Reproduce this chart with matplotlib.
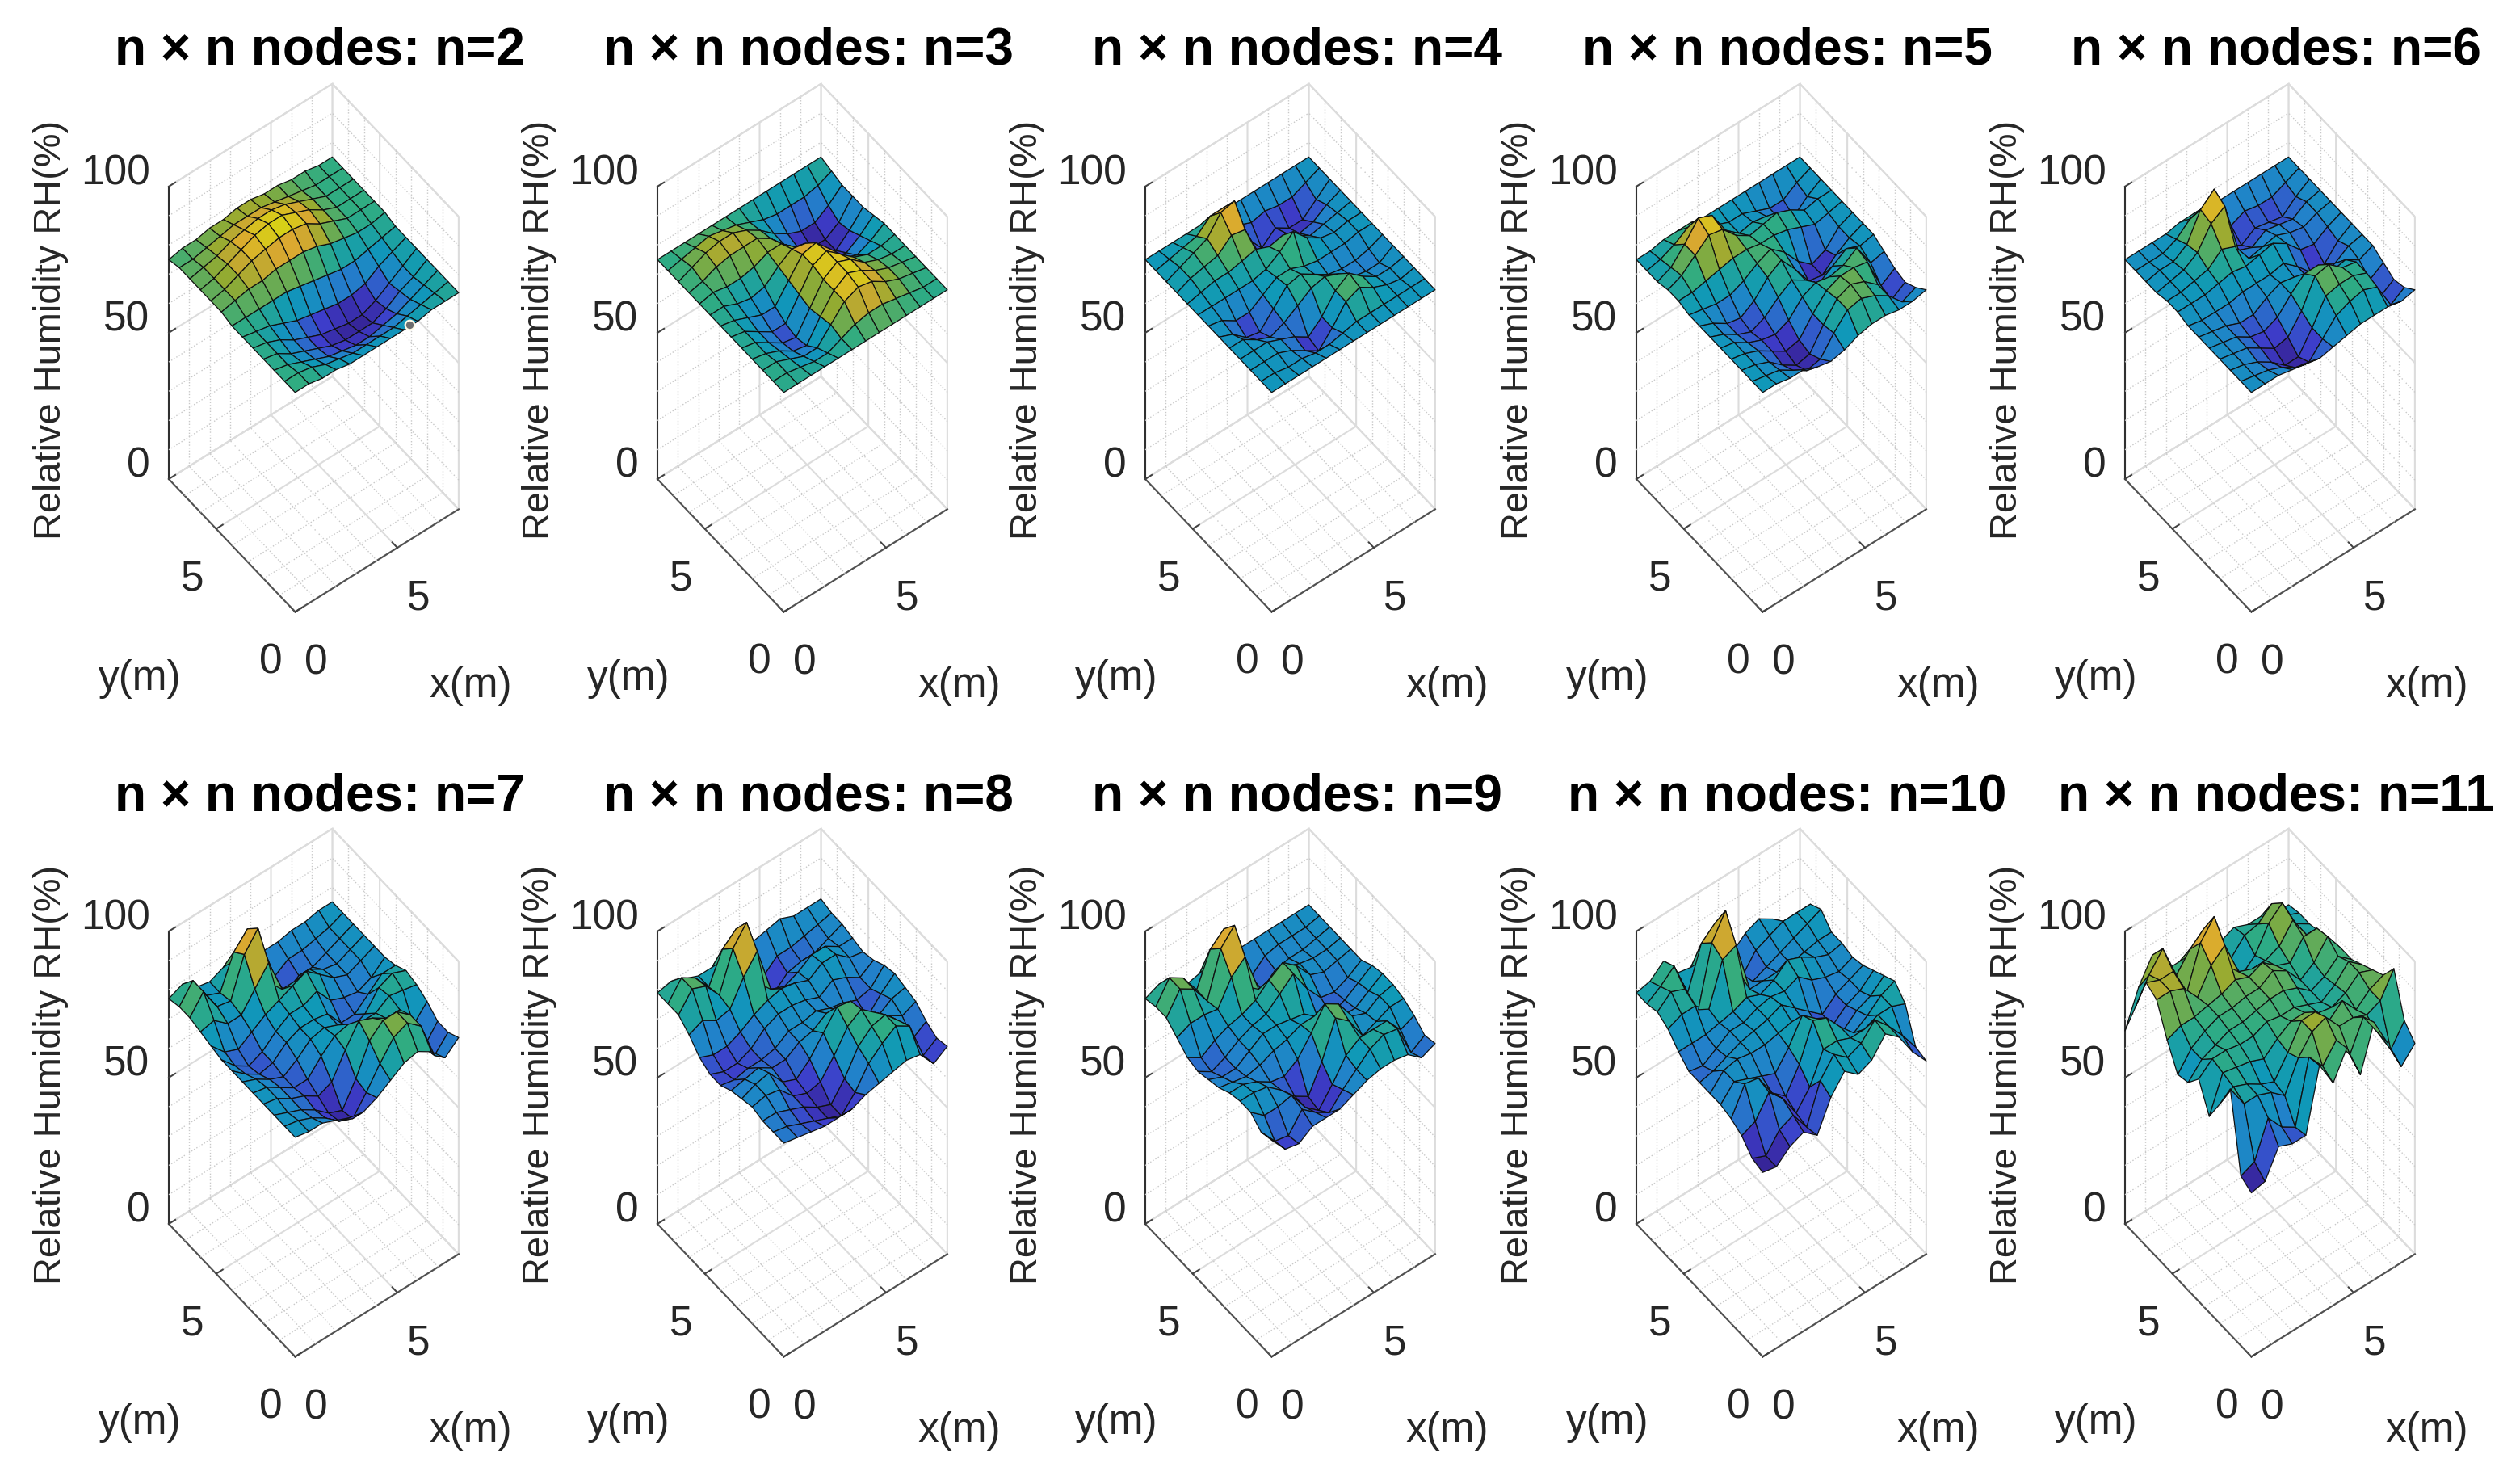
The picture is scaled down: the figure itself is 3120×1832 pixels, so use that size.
import numpy as np
import matplotlib
matplotlib.use("Agg")
import matplotlib.pyplot as plt
from matplotlib.colors import LinearSegmentedColormap, Normalize
from mpl_toolkits.mplot3d import proj3d

# ---- values (RH %, rows: y from 0 to max, columns: x from 0 to max)
rh_n2 = [
[75,75,74,74,73,73,73,73,73,73,74,74,74],
[75,75,74,72,71,70,70,70,70,71,72,73,74],
[75,74,72,70,68,67,66,66,67,68,70,72,74],
[75,74,71,69,67,65,64,64,64,66,69,71,74],
[75,74,72,69,67,65,64,63,63,65,68,71,74],
[75,74,73,71,69,68,67,66,66,67,70,72,74],
[75,75,75,75,75,74,73,72,71,71,72,73,74],
[76,77,78,78,79,79,79,78,76,75,74,74,75],
[76,77,79,81,82,83,83,82,79,77,75,75,75],
[76,77,79,81,83,84,84,82,80,77,75,75,75],
[76,77,78,80,81,82,82,81,79,77,75,75,75],
[76,76,77,78,79,79,79,78,77,76,75,75,75],
[75,76,76,77,77,78,78,77,77,76,76,75,75]]
rh_n3 = [
[75,75,75,75,75,75,75,75,75,75,75,75,75],
[75,75,74,73,73,75,77,78,78,77,76,75,75],
[75,75,73,71,71,76,81,83,82,79,77,76,75],
[75,74,72,69,68,75,81,84,82,79,77,76,75],
[75,74,71,68,67,74,81,84,82,78,76,75,75],
[75,74,71,68,68,75,82,84,80,76,74,74,75],
[75,74,72,70,70,76,82,83,78,72,70,72,75],
[75,75,73,72,73,77,80,79,73,68,67,70,74],
[75,76,75,75,76,78,78,74,69,65,64,68,73],
[75,76,78,79,79,79,76,71,67,64,64,67,73],
[75,77,79,80,80,78,75,71,68,66,66,69,73],
[75,76,77,78,77,76,74,72,71,71,71,72,74],
[75,75,75,75,75,75,75,75,75,75,75,75,75]]
rh_n4 = [
[75,75,75,75,75,75,75,75,75,75,75,75,75],
[75,75,74,74,73,73,74,75,75,75,75,75,75],
[75,75,75,73,70,67,72,78,80,77,75,74,75],
[75,75,75,73,71,68,72,78,81,77,74,74,75],
[75,75,72,70,72,75,78,79,77,73,72,72,75],
[75,73,69,68,73,78,79,76,73,72,72,73,75],
[75,74,71,71,74,77,77,75,74,74,74,75,75],
[75,75,75,75,75,76,79,83,78,75,74,75,75],
[75,76,77,77,78,79,77,78,75,72,73,74,75],
[75,77,78,79,83,82,71,70,72,69,70,73,75],
[75,77,79,81,87,88,72,66,70,67,67,71,75],
[75,76,77,78,82,82,73,71,72,71,71,73,75],
[75,75,75,75,75,75,75,75,75,75,75,75,75]]
rh_n5 = [
[75,75,74,74,72,71,72,74,75,75,74,74,75],
[75,74,73,70,67,68,74,79,80,78,75,70,72],
[75,74,72,68,65,66,73,79,81,79,75,67,70],
[75,74,72,69,66,67,73,78,80,80,79,68,71],
[75,74,71,69,68,70,75,77,76,77,80,72,73],
[75,73,70,68,70,74,77,74,70,73,76,74,75],
[75,73,70,69,72,77,80,74,67,66,70,73,75],
[75,74,73,73,75,78,80,76,70,66,68,73,75],
[76,76,77,78,79,79,78,78,77,75,73,74,75],
[76,78,82,86,85,80,77,78,79,77,74,75,75],
[75,77,82,88,86,78,74,75,74,70,68,72,75],
[75,76,78,81,80,76,74,74,72,70,70,73,75],
[75,75,76,76,76,75,75,75,75,75,75,75,75]]
rh_n6 = [
[75,75,75,74,73,72,73,74,75,75,75,74,75],
[75,74,73,71,68,67,72,77,79,80,78,69,72],
[75,74,72,69,65,65,72,80,81,81,79,68,71],
[75,74,73,70,67,68,74,83,84,80,79,70,73],
[75,74,73,70,69,71,76,80,80,75,76,73,75],
[75,74,73,71,71,74,76,75,72,69,71,74,75],
[75,74,74,74,75,75,75,76,72,67,67,72,75],
[76,76,76,77,78,77,78,79,76,71,70,73,75],
[76,76,77,78,82,80,73,74,75,73,72,74,75],
[75,76,77,80,87,90,72,70,73,72,71,74,75],
[75,76,76,79,88,92,70,67,70,69,68,72,75],
[75,75,75,77,81,82,71,70,72,71,71,73,75],
[75,75,75,75,76,76,75,75,75,75,75,75,75]]
rh_n7 = [
[75,74,74,72,70,69,71,74,77,78,75,70,74],
[75,74,72,69,65,63,69,76,82,84,80,67,72],
[75,73,71,68,64,62,70,80,84,84,80,66,72],
[75,74,71,69,66,68,76,83,81,78,78,70,75],
[75,74,71,68,68,73,77,78,76,76,79,78,77],
[75,73,70,68,71,75,76,74,70,72,78,80,78],
[75,71,68,69,73,75,75,74,68,68,72,76,76],
[75,70,67,69,73,76,76,78,72,70,69,71,75],
[76,71,69,72,75,77,79,81,77,73,71,73,75],
[77,78,74,74,80,86,74,74,75,72,71,73,75],
[78,84,76,75,88,94,72,66,69,69,71,73,75],
[78,84,76,74,85,90,72,68,71,71,72,73,75],
[77,79,75,74,76,76,74,73,73,74,74,75,75]]
rh_n8 = [
[73,72,71,70,70,70,72,73,74,75,74,68,71],
[73,72,70,68,66,64,69,76,80,83,80,67,70],
[73,73,71,69,66,64,70,78,82,83,78,69,72],
[74,75,74,69,67,68,74,81,84,80,76,73,75],
[73,75,76,70,68,72,78,84,83,74,72,75,76],
[72,73,74,71,71,74,75,78,76,69,68,73,77],
[70,69,70,70,71,74,74,75,73,72,70,71,76],
[70,68,68,70,74,76,76,75,73,76,74,71,74],
[72,70,70,72,75,77,78,77,75,78,78,74,73],
[76,78,75,76,84,90,74,72,74,77,77,74,74],
[79,85,83,77,90,96,72,66,70,71,71,73,75],
[79,85,82,76,86,90,73,68,72,72,73,74,75],
[79,80,78,76,76,76,75,76,77,78,76,76,76]]
rh_n9 = [
[74,68,67,70,70,70,72,74,75,75,74,70,72],
[73,67,66,72,68,65,70,74,78,80,79,68,71],
[76,72,72,73,66,62,68,75,78,78,78,72,74],
[76,76,75,71,66,63,72,84,80,72,74,76,76],
[75,75,73,70,69,72,78,85,82,75,73,76,77],
[73,72,71,72,74,75,77,77,75,71,71,74,77],
[72,70,70,73,76,76,75,74,70,68,70,73,76],
[71,68,70,73,75,76,80,84,76,70,69,71,74],
[72,69,72,74,75,77,81,84,80,74,72,73,74],
[75,77,77,76,84,88,74,75,76,74,73,73,74],
[78,85,82,75,90,95,71,67,71,72,72,73,74],
[78,85,82,75,86,90,72,68,72,73,73,73,74],
[77,79,76,73,74,75,74,74,74,74,74,74,74]]
rh_n10 = [
[63,62,66,68,64,74,80,76,78,84,80,72,66],
[64,62,68,70,63,76,82,78,80,85,80,74,67],
[68,70,77,72,64,70,80,80,78,78,80,80,78],
[70,79,78,70,66,74,86,84,78,73,76,80,82],
[71,76,74,72,70,76,84,80,72,70,74,76,80],
[71,76,77,76,76,77,78,74,70,68,72,74,78],
[71,72,74,76,77,78,80,76,72,68,72,74,76],
[71,70,73,76,76,78,79,78,80,76,74,73,75],
[74,74,74,75,76,78,76,78,82,80,77,75,76],
[78,80,80,76,90,92,74,74,74,74,75,76,76],
[80,84,82,72,92,100,76,70,72,74,76,78,80],
[79,82,86,74,88,92,72,68,74,76,78,78,78],
[79,80,84,77,76,76,74,72,76,78,75,70,66]]
rh_n11 = [
[56,57,66,64,64,85,76,85,73,88,78,67,72],
[58,60,72,66,63,84,78,84,76,86,78,69,76],
[84,76,76,74,70,80,86,88,82,82,80,82,90],
[75,78,76,73,71,78,86,86,80,84,78,82,84],
[67,79,78,77,75,79,82,82,79,78,80,84,82],
[76,80,80,79,79,81,80,80,78,76,79,84,80],
[71,76,78,80,80,81,82,82,80,76,78,82,78],
[70,76,79,81,81,82,82,85,82,76,79,85,78],
[78,80,80,81,82,84,82,84,80,78,84,84,76],
[88,88,86,80,88,92,80,78,78,80,86,78,76],
[90,88,88,78,92,98,78,72,76,84,88,78,75],
[78,86,92,80,86,90,76,74,79,80,84,77,75],
[66,78,86,78,78,78,74,76,78,76,76,74,74]]

panel_n = [2, 3, 4, 5, 6, 7, 8, 9, 10, 11]
panel_rh = [rh_n2, rh_n3, rh_n4, rh_n5, rh_n6, rh_n7, rh_n8, rh_n9, rh_n10, rh_n11]
x_ticks = [0, 5]
y_ticks = [0, 5]
z_ticks = [0, 50, 100]
xy_minor = [1, 2, 3, 4, 6, 7]
z_minor = [10, 20, 30, 40, 60, 70, 80, 90]
marker_x, marker_y, marker_z = [5.6], [0.0], [73.5]

# ---- styling
W, H, DPI = 3120, 1832, 100
FONT = "Liberation Sans"
INK = "#262626"
plt.rcParams.update({
    "font.family": FONT,
    "grid.color": "#dcdcdc",
    "grid.linewidth": 1.5,
    "xtick.major.width": 1.4, "ytick.major.width": 1.4,
    "xtick.color": "#404040", "ytick.color": "#404040",
})
# parula, darkened a little as the reference's dense black mesh darkens its facets
SHADE = 0.86
parula = LinearSegmentedColormap.from_list("parula_like", [
    tuple(SHADE * c for c in rgb) for rgb in (
    (0.2422, 0.1504, 0.6603), (0.2803, 0.2782, 0.9221), (0.1540, 0.5902, 0.9218),
    (0.0689, 0.6948, 0.8394), (0.2161, 0.7843, 0.5923), (0.6720, 0.7793, 0.2227),
    (0.9970, 0.7659, 0.2199), (0.9769, 0.9839, 0.0805))])

fig = plt.figure(figsize=(W / DPI, H / DPI), dpi=DPI, facecolor="white")

left_x = [209, 814, 1418, 2026, 2631]
floor_y = [593, 1515]
title_cx = [396, 1001, 1606, 2213, 2818]
title_y = [62, 987]
ASPECT = (256, 256, 621)
SIDE = 900          # px size of the square axes box
X_LEN = 239.0       # px length of the x axis on screen


def screen(ax, x, y, z):
    xs, ys, _ = proj3d.proj_transform(x, y, z, ax.get_proj())
    return ax.transData.transform((xs, ys))


for k, (n, rh) in enumerate(zip(panel_n, panel_rh)):
    col, row = k % 5, k // 5
    ax = fig.add_axes([0.1, 0.1, SIDE / W, SIDE / H], projection="3d",
                      proj_type="ortho", computed_zorder=False)
    ax.view_init(elev=54.3, azim=-127.7)
    ax.set_xlim(0, 8, view_margin=0)
    ax.set_ylim(0, 8, view_margin=0)
    ax.set_zlim(0, 100, view_margin=0)
    ax.patch.set_alpha(0)

    # fit the projected box onto the picture's axes position
    ax.set_box_aspect(ASPECT, zoom=1.0)
    ax.apply_aspect()
    a, b = screen(ax, 0, 0, 0), screen(ax, 8, 0, 0)
    ax.set_box_aspect(ASPECT, zoom=X_LEN / np.hypot(*(b - a)))
    ax.apply_aspect()
    p = screen(ax, 0, 8, 0)
    target = np.array([left_x[col], H - floor_y[row]])
    pos = ax.get_position()
    ax.set_position([pos.x0 + (target[0] - p[0]) / W, pos.y0 + (target[1] - p[1]) / H,
                     pos.width, pos.height])

    # surface
    Z = np.array(rh, dtype=float)
    xg = np.linspace(0, 8, Z.shape[1])
    yg = np.linspace(0, 8, Z.shape[0])
    Xg, Yg = np.meshgrid(xg, yg)
    ax.plot_surface(Xg, Yg, Z, cmap=parula, norm=Normalize(Z.min(), Z.max()),
                    rcount=Z.shape[0], ccount=Z.shape[1], edgecolor="#101010",
                    linewidth=0.9, antialiased=True, shade=False, zorder=5)
    if n == 2:
        ax.scatter(marker_x, marker_y, marker_z, s=70, c="#6e6e6e", edgecolors="#fffbe6",
                   linewidths=1.6, depthshade=False, zorder=6)

    # minor dotted grid on floor and back walls
    gkw = dict(color="#c8c8c8", lw=1.0, ls=":", zorder=1)
    for c in xy_minor:
        ax.plot([c, c], [0, 8], [0, 0], **gkw)
        ax.plot([0, 8], [c, c], [0, 0], **gkw)
        ax.plot([c, c], [8, 8], [0, 100], **gkw)
        ax.plot([8, 8], [c, c], [0, 100], **gkw)
    for c in z_minor:
        ax.plot([0, 8], [8, 8], [c, c], **gkw)
        ax.plot([8, 8], [0, 8], [c, c], **gkw)

    # axes, ticks
    ax.set_xticks(x_ticks)
    ax.set_yticks(y_ticks)
    ax.set_zticks(z_ticks)
    for axis, name in ((ax.xaxis, "x"), (ax.yaxis, "y"), (ax.zaxis, "z")):
        axis.set_pane_color((1, 1, 1, 1))
        axis.pane.set_edgecolor("#dcdcdc")
        axis.pane.set_linewidth(1.5)
        axis.line.set_color("#505050" if name != "z" else "#303030")
        axis.line.set_linewidth(1.5)
        axis._axinfo["tick"]["inward_factor"] = 0.0
        axis._axinfo["tick"]["outward_factor"] = 0.5
        axis._axinfo["tick"]["linewidth"] = {True: 1.4, False: 1.0}
        axis._axinfo["tick"]["color"] = "#505050"
    ax.tick_params(axis="x", labelsize=37, labelcolor=INK, pad=17)
    ax.tick_params(axis="y", labelsize=37, labelcolor=INK, pad=18)
    ax.tick_params(axis="z", labelsize=37, labelcolor=INK, pad=14)
    for t in ax.xaxis.get_major_ticks():
        t.label1.set_ha("left")
    for t in ax.yaxis.get_major_ticks():
        t.label1.set_ha("right")
    for t in ax.zaxis.get_major_ticks():
        t.label1.set_ha("right")
        t.label1.set_va("baseline")

    # labels and title in figure pixels
    xl, fy = left_x[col], floor_y[row]
    fig.text(title_cx[col] / W, 1 - title_y[row] / H, f"n × n nodes: n={n}", fontsize=46,
             fontweight="bold", color="black", ha="center", va="center")
    fig.text((xl - 146) / W, 1 - (fy - 185) / H, "Relative Humidity RH(%)", fontsize=33.8,
             color=INK, rotation=90, ha="center", va="center")
    fig.text((xl - 36) / W, 1 - (fy + 247) / H, "y(m)", fontsize=37, color=INK,
             ha="center", va="center")
    fig.text((xl + 374) / W, 1 - (fy + 257) / H, "x(m)", fontsize=37, color=INK,
             ha="center", va="center")

fig.savefig("out.png", dpi=DPI, facecolor="white")
